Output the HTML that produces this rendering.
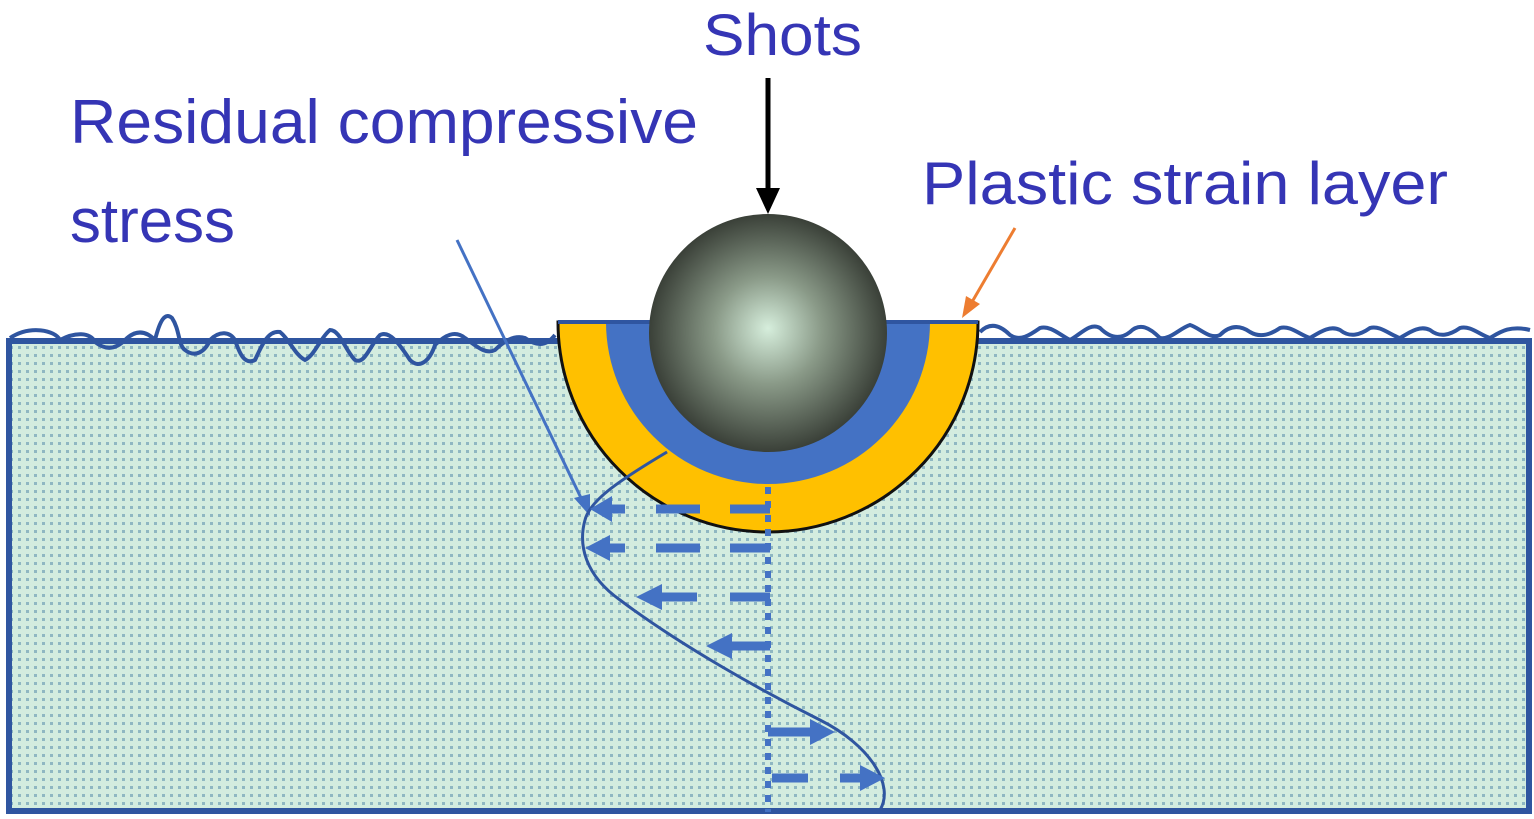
<!DOCTYPE html>
<html><head><style>html,body{margin:0;padding:0;background:#fff;}svg{display:block}</style></head>
<body>
<svg width="1534" height="819" viewBox="0 0 1534 819" xmlns="http://www.w3.org/2000/svg">
<defs>
<pattern id="dots" width="8" height="8" patternUnits="userSpaceOnUse">
<rect width="8" height="8" fill="#d3ecdf"/>
<rect x="2" y="2" width="3" height="3" fill="#8fb7c2"/>
</pattern>
<radialGradient id="ball" cx="0.5" cy="0.5" r="0.5" fx="0.5" fy="0.48">
<stop offset="0" stop-color="#d6eedc"/>
<stop offset="0.45" stop-color="#8a9a88"/>
<stop offset="1" stop-color="#3a4038"/>
</radialGradient>
<marker id="ab" markerWidth="8" markerHeight="8" refX="6" refY="4" orient="auto" markerUnits="strokeWidth"><path d="M0,0 L8,4 L0,8 Z" fill="#4472c4"/></marker>
</defs>
<!-- block -->
<rect x="9" y="341" width="1520" height="470" fill="url(#dots)" stroke="#2f55a0" stroke-width="6"/>
<!-- surface waves left -->
<path d="M10,338 C30,325 55,330 60,340 C75,332 90,332 95,342 C105,350 115,350 125,340 C135,330 145,330 155,340 C160,320 165,312 172,318 C180,330 178,345 185,350 C195,358 205,352 210,340 C220,330 230,332 235,340 C240,355 245,365 255,360 C262,345 268,330 280,332 C290,340 295,355 305,360 C315,355 320,338 330,330 C340,330 345,350 355,360 C365,365 370,345 380,335 C390,330 400,345 410,360 C420,370 430,360 435,345 C445,335 455,330 465,338 C475,345 485,355 495,350 C505,340 515,335 525,338 C535,345 545,348 555,335" fill="none" stroke="#2f55a0" stroke-width="4"/>
<!-- right waves -->
<path d="M980,332 C990,322 1000,325 1010,335 C1020,342 1030,335 1040,328 C1050,325 1060,335 1070,340 C1080,335 1090,322 1100,328 C1110,338 1120,340 1130,332 C1140,322 1150,328 1160,338 C1170,340 1180,328 1190,325 C1200,328 1210,340 1220,335 C1230,325 1240,325 1250,332 C1260,338 1270,335 1280,328 C1290,325 1300,335 1310,338 C1320,332 1330,325 1340,330 C1350,338 1360,335 1370,328 C1380,325 1390,335 1400,338 C1410,332 1420,325 1430,330 C1440,338 1450,335 1460,328 C1470,325 1480,335 1490,338 C1500,332 1510,325 1530,330" fill="none" stroke="#2f55a0" stroke-width="4"/>
<!-- crater -->
<path d="M558,322 L978,322 A210,210 0 0 1 558,322 Z" fill="#ffc000" stroke="#111" stroke-width="3"/>
<path d="M606,322 L930,322 A162,162 0 0 1 606,322 Z" fill="#4472c4"/>
<line x1="558" y1="322" x2="978" y2="322" stroke="#2f55a0" stroke-width="4"/>
<circle cx="768" cy="333" r="119" fill="url(#ball)"/>
<!-- shots arrow -->
<line x1="768" y1="78" x2="768" y2="195" stroke="#000" stroke-width="5"/>
<path d="M756,188 L780,188 L768,214 Z" fill="#000"/>
<!-- orange arrow -->
<line x1="1015" y1="228" x2="972" y2="302" stroke="#ed7d31" stroke-width="3"/>
<path d="M962,318 L966,296 L980,304 Z" fill="#ed7d31"/>
<!-- blue pointer -->
<line x1="457" y1="240" x2="582" y2="500" stroke="#4472c4" stroke-width="3"/>
<path d="M590,516 L574,498 L590,494 Z" fill="#4472c4"/>
<!-- divider -->
<line x1="628" y1="476" x2="667" y2="452" stroke="#555" stroke-width="2"/>
<!-- stress curve -->
<path d="M667,452 C620,480 590,500 585,520 C578,545 585,575 620,600 C680,645 760,690 820,720 C870,745 895,785 880,810" fill="none" stroke="#2f55a0" stroke-width="3"/>
<!-- dotted vertical -->
<line x1="768" y1="487" x2="768" y2="812" stroke="#4472c4" stroke-width="6" stroke-dasharray="7,7"/>
<!-- dashed arrows -->
<g stroke="#4472c4" stroke-width="9" fill="#4472c4">
<line x1="770" y1="509" x2="730" y2="509"/><line x1="700" y1="509" x2="656" y2="509"/><line x1="625" y1="509" x2="605" y2="509"/>
<path d="M590,509 L612,496 L612,522 Z" stroke="none"/>
<line x1="770" y1="548" x2="730" y2="548"/><line x1="700" y1="548" x2="656" y2="548"/><line x1="625" y1="548" x2="605" y2="548"/>
<path d="M585,548 L610,535 L610,561 Z" stroke="none"/>
<line x1="770" y1="597" x2="730" y2="597"/><line x1="697" y1="597" x2="660" y2="597"/>
<path d="M636,597 L662,584 L662,610 Z" stroke="none"/>
<line x1="770" y1="646" x2="730" y2="646"/>
<path d="M706,646 L732,633 L732,659 Z" stroke="none"/>
<line x1="768" y1="732" x2="812" y2="732"/>
<path d="M835,732 L810,719 L810,745 Z" stroke="none"/>
<line x1="772" y1="778" x2="808" y2="778"/><line x1="840" y1="778" x2="862" y2="778"/>
<path d="M885,778 L860,765 L860,791 Z" stroke="none"/>
</g>
<!-- text -->
<g font-family="'Liberation Sans', sans-serif" fill="#3535b5">
<text x="703" y="55" font-size="58" textLength="159" lengthAdjust="spacingAndGlyphs">Shots</text>
<text x="70" y="143" font-size="62" textLength="628" lengthAdjust="spacingAndGlyphs">Residual compressive</text>
<text x="70" y="242" font-size="62" textLength="165" lengthAdjust="spacingAndGlyphs">stress</text>
<text x="922" y="204" font-size="60" textLength="526" lengthAdjust="spacingAndGlyphs">Plastic strain layer</text>
</g>
</svg>
</body></html>
